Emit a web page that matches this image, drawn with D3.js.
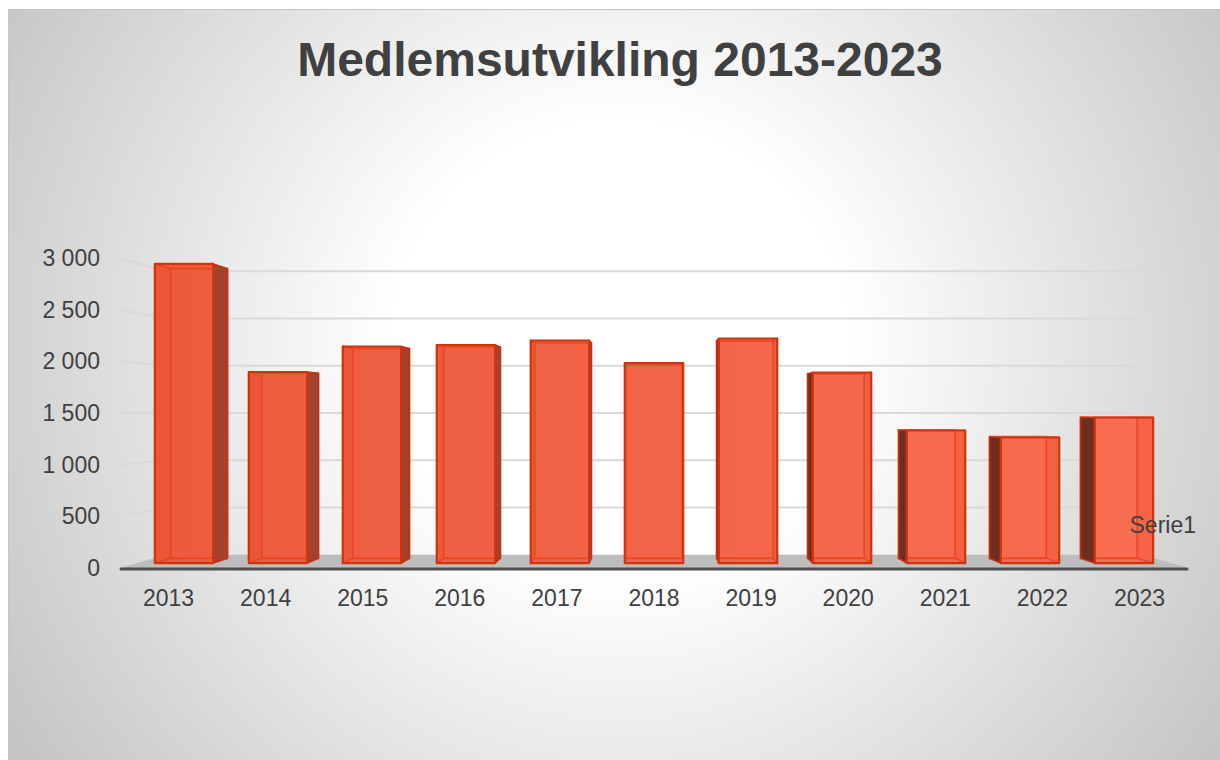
<!DOCTYPE html>
<html>
  <head>
    <meta charset="utf-8" />
    <style>
      body {
        margin: 0;
        background: #ffffff;
        font-family: "Liberation Sans", Arial, Helvetica, sans-serif;
      }
      svg {
        display: block;
      }
    </style>
    <script src="https://cdn.jsdelivr.net/npm/d3@7"></script>
  </head>

  <body>
    <svg id="Chart"></svg>
  </body>
  <script>
    // chart data
    const years = ["2013", "2014", "2015", "2016", "2017", "2018", "2019", "2020", "2021", "2022", "2023"];
    const members = [2990, 1910, 2165, 2180, 2225, 2000, 2245, 1905, 1325, 1255, 1455];
    const yTicks = [0, 500, 1000, 1500, 2000, 2500, 3000];
    const chartTitle = "Medlemsutvikling 2013-2023";
    const seriesName = "Serie1";

    function getConfig() {
      let width = 1220;
      let height = 760;
      // front plane of the 3D plot box
      let plot = { left: 120, right: 1188, top: 258, bottom: 568 };
      // vanishing point and depth factors (1 = front plane)
      let vp = [654, 413];
      let depth = { barFront: 0.968, barBack: 0.937, wall: 0.915 };
      let container = d3.select("#Chart").attr("width", width).attr("height", height);
      return { width, height, plot, vp, depth, container };
    }

    function getScales(config) {
      let { plot } = config;
      let xScale = d3
        .scaleBand()
        .domain(years)
        .range([plot.left, plot.right])
        .paddingInner(0.378)
        .paddingOuter(0.189);
      let yScale = d3
        .scaleLinear()
        .domain([0, 3000])
        .range([plot.bottom, plot.top]);
      return { xScale, yScale };
    }

    // perspective: pull a front-plane point towards the vanishing point
    function project(config, x, y, f) {
      let [vx, vy] = config.vp;
      return [vx + (x - vx) * f, vy + (y - vy) * f];
    }

    function poly(points) {
      return "M" + points.map((p) => p[0].toFixed(2) + "," + p[1].toFixed(2)).join("L") + "Z";
    }

    function drawBackground(config) {
      let { container, width, height } = config;
      let defs = container.append("defs");

      let bg = defs
        .append("radialGradient")
        .attr("id", "bgGrad")
        .attr("gradientUnits", "userSpaceOnUse")
        .attr("cx", 620)
        .attr("cy", 350)
        .attr("r", 760);
      bg.append("stop").attr("offset", 0).attr("stop-color", "#ffffff");
      bg.append("stop").attr("offset", 0.3).attr("stop-color", "#ffffff");
      bg.append("stop").attr("offset", 1).attr("stop-color", "#c0c0c0");

      let front = defs
        .append("linearGradient")
        .attr("id", "barGrad")
        .attr("gradientUnits", "userSpaceOnUse")
        .attr("x1", 150)
        .attr("x2", 1160)
        .attr("y1", 0)
        .attr("y2", 0);
      front.append("stop").attr("offset", 0).attr("stop-color", "#eb5b3e");
      front.append("stop").attr("offset", 1).attr("stop-color", "#f86e51");

      container
        .append("rect")
        .attr("x", 8.5)
        .attr("y", 9.5)
        .attr("width", width - 8)
        .attr("height", height - 9)
        .attr("fill", "url(#bgGrad)")
        .attr("stroke", "#c6c6c6")
        .attr("stroke-width", 1);
    }

    function drawTitle(config) {
      config.container
        .append("text")
        .attr("x", 620)
        .attr("y", 76)
        .attr("text-anchor", "middle")
        .attr("font-size", 48)
        .attr("font-weight", "bold")
        .attr("fill", "#404040")
        .text(chartTitle);
    }

    function drawWallsAndFloor(config, scales) {
      let { container, plot, depth } = config;
      let { yScale } = scales;

      // gridlines: left wall segment then back wall
      container
        .append("g")
        .selectAll("path")
        .data(yTicks.filter((d) => d > 0))
        .enter()
        .append("path")
        .attr("d", (d) => {
          let y = yScale(d);
          let a = project(config, plot.left, y, 1);
          let b = project(config, plot.left, y, depth.wall);
          let c = project(config, plot.right, y, depth.wall);
          return `M${a}L${b}L${c}`;
        })
        .attr("fill", "none")
        .attr("stroke", "#d9d9d9")
        .attr("stroke-width", 2);

      // floor
      let y0 = yScale(0);
      container
        .append("path")
        .attr(
          "d",
          poly([
            project(config, plot.left, y0, 1),
            project(config, plot.right, y0, 1),
            project(config, plot.right, y0, depth.wall),
            project(config, plot.left, y0, depth.wall),
          ])
        )
        .attr("fill", "#bdbdbd");

      container
        .append("line")
        .attr("x1", plot.left + 1)
        .attr("x2", plot.right - 1)
        .attr("y1", y0 + 1)
        .attr("y2", y0 + 1)
        .attr("stroke", "#505050")
        .attr("stroke-width", 3)
        .attr("stroke-linecap", "round");
    }

    function drawBars(config, scales) {
      let { container, depth, vp } = config;
      let { xScale, yScale } = scales;
      let f1 = depth.barFront;
      let f2 = depth.barBack;

      let data = years.map((y, i) => ({ year: y, value: members[i] }));

      let bars = container
        .append("g")
        .selectAll("g")
        .data(data)
        .enter()
        .append("g");

      bars.each(function (d) {
        let g = d3.select(this);
        let x0 = xScale(d.year);
        let x1 = x0 + xScale.bandwidth();
        let yt = yScale(d.value);
        let yb = yScale(0);
        let P = (x, y, f) => project(config, x, y, f);
        let centre = (x0 + x1) / 2;

        let frontFace = [P(x0, yt, f1), P(x1, yt, f1), P(x1, yb, f1), P(x0, yb, f1)];
        let backFace = [P(x0, yt, f2), P(x1, yt, f2), P(x1, yb, f2), P(x0, yb, f2)];
        let leftSide = [P(x0, yt, f1), P(x0, yt, f2), P(x0, yb, f2), P(x0, yb, f1)];
        let rightSide = [P(x1, yt, f1), P(x1, yt, f2), P(x1, yb, f2), P(x1, yb, f1)];

        let visibleSide = null;
        let hiddenSide = null;
        let sideColour = null;
        if (centre < vp[0] - 2) {
          visibleSide = rightSide;
          hiddenSide = leftSide;
          sideColour = "#a2432f";
        } else if (centre > vp[0] + 2) {
          visibleSide = leftSide;
          hiddenSide = rightSide;
          sideColour = "#6c2e21";
        }

        // front face fill
        g.append("path").attr("d", poly(frontFace)).attr("fill", "url(#barGrad)");

        // hidden side tint, seen through the front
        if (hiddenSide) {
          g.append("path")
            .attr("d", poly(hiddenSide))
            .attr("fill", "#f0401a")
            .attr("fill-opacity", 0.22);
        }

        // back edges seen through the translucent front
        g.append("path")
          .attr("d", poly(backFace) + (hiddenSide ? poly(hiddenSide) : ""))
          .attr("fill", "none")
          .attr("stroke", "#e8441d")
          .attr("stroke-width", 1.8)
          .attr("stroke-opacity", 0.85);

        if (visibleSide) {
          g.append("path")
            .attr("d", poly(visibleSide))
            .attr("fill", sideColour)
            .attr("stroke", "#c3310f")
            .attr("stroke-width", 1.6)
            .attr("stroke-linejoin", "round");
        }

        g.append("path")
          .attr("d", poly(frontFace))
          .attr("fill", "none")
          .attr("stroke", "#cf3411")
          .attr("stroke-width", 2.2)
          .attr("stroke-linejoin", "round");
      });
    }

    function drawAxes(config, scales) {
      let { container, plot } = config;
      let { xScale, yScale } = scales;

      let axisY = d3
        .axisLeft(yScale)
        .tickValues(yTicks)
        .tickSize(0)
        .tickPadding(20)
        .tickFormat((d) => d3.format(",")(d).replace(/,/g, "\u00a0"));

      let gy = container
        .append("g")
        .attr("transform", `translate(${plot.left},0)`)
        .call(axisY);
      gy.select(".domain").remove();
      gy.selectAll("text")
        .attr("font-family", "'Liberation Sans', Arial, sans-serif")
        .attr("font-size", 23)
        .attr("fill", "#404040");

      let axisX = d3.axisBottom(xScale).tickSize(0).tickPadding(22);
      let gx = container
        .append("g")
        .attr("transform", `translate(0,${plot.bottom})`)
        .call(axisX);
      gx.select(".domain").remove();
      gx.selectAll("text")
        .attr("font-family", "'Liberation Sans', Arial, sans-serif")
        .attr("font-size", 23)
        .attr("fill", "#404040");

      // depth (series) axis label
      container
        .append("text")
        .attr("x", 1196)
        .attr("y", 533)
        .attr("text-anchor", "end")
        .attr("font-size", 23)
        .attr("fill", "#404040")
        .text(seriesName);
    }

    function drawChart() {
      let config = getConfig();
      let scales = getScales(config);
      drawBackground(config);
      drawTitle(config);
      drawWallsAndFloor(config, scales);
      drawBars(config, scales);
      drawAxes(config, scales);
    }

    drawChart();
  </script>
</html>
